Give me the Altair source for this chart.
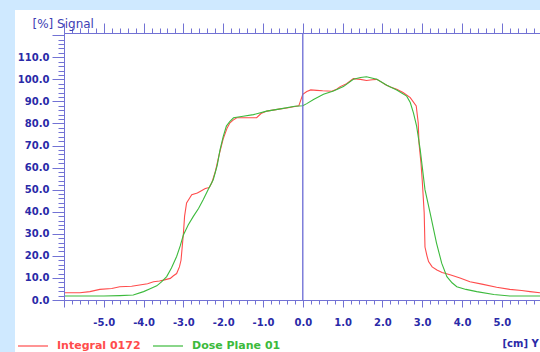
import altair as alt
import pandas as pd

# ---------------- data ----------------
red_x = [-6.0, -5.6, -5.35, -5.1, -4.8, -4.6, -4.3, -4.1, -3.9, -3.75,
         -3.6, -3.5, -3.33, -3.25, -3.17, -3.1, -3.06, -3.03, -3.0, -2.97,
         -2.92, -2.85, -2.79, -2.65, -2.58, -2.45, -2.35, -2.29, -2.2, -2.1,
         -2.0, -1.9, -1.83, -1.75, -1.66, -1.5, -1.41, -1.25, -1.16, -1.05,
         -0.9, -0.6, -0.4, -0.2, -0.1, 0.0, 0.1, 0.2, 0.35, 0.5,
         0.73, 0.85, 0.94, 1.1, 1.27, 1.45, 1.6, 1.75, 1.86, 2.0,
         2.07, 2.2, 2.36, 2.52, 2.7, 2.85, 2.9, 2.92, 2.97, 3.0,
         3.05, 3.07, 3.12, 3.16, 3.25, 3.37, 3.5, 3.7, 3.95, 4.2,
         4.5, 4.87, 5.2, 5.5, 5.71, 5.96]
red_y = [3.3, 3.3, 3.8, 4.8, 5.2, 6.0, 6.2, 6.8, 7.4, 8.3,
         8.6, 9.0, 9.8, 11, 12, 15, 18, 24, 30, 38,
         44, 46, 47.7, 48.5, 49.2, 50.5, 51, 53, 58, 66,
         73, 78, 80.3, 81.5, 82.6, 82.6, 82.6, 82.6, 82.6, 84.5,
         85.6, 86.5, 87, 87.7, 88, 93.2, 94.5, 95.2, 95, 94.8,
         94.6, 95.5, 96.7, 98, 100.3, 100, 99.5, 99.8, 100, 98.5,
         97.7, 96.5, 95.5, 94, 91.7, 87.9, 80.3, 71, 62, 54.5,
         39.5, 24, 20, 17.4, 15, 13.6, 12.5, 11.4, 10, 8.3,
         7.2, 5.8, 4.8, 4.3, 3.8, 3.3]

green_x = [-6.0, -5.0, -4.6, -4.26, -4.0, -3.85, -3.67, -3.55, -3.42, -3.3,
           -3.17, -3.08, -3.0, -2.88, -2.75, -2.62, -2.5, -2.38, -2.25, -2.15,
           -2.08, -2.0, -1.92, -1.83, -1.74, -1.5, -1.24, -0.91, -0.6, -0.2,
           0.0, 0.1, 0.27, 0.52, 0.77, 1.02, 1.27, 1.45, 1.6, 1.86,
           2.11, 2.36, 2.61, 2.7, 2.78, 2.86, 2.95, 3.03, 3.07, 3.2,
           3.36, 3.49, 3.62, 3.75, 3.87, 4.1, 4.37, 4.8, 5.2, 5.96]
green_y = [1.8, 1.8, 2.0, 2.3, 3.8, 5.0, 6.4, 8.2, 10.6, 14.5,
           19.7, 24.5, 29.5, 34, 37.9, 41.5, 45.5, 50, 54.5, 61,
           68, 74, 78.8, 81, 82.6, 83.3, 84, 85.6, 86.5, 87.8,
           88, 89, 90.9, 93.2, 94.7, 96.7, 100, 100.8, 101.2, 100,
           97.3, 95.2, 92.4, 89.5, 84.8, 78.8, 68.2, 56, 50, 39.4,
           25.8, 16.7, 10.6, 7.8, 6.0, 4.8, 3.8, 2.5, 1.8, 1.8]

red_name = "Integral 0172"
green_name = "Dose Plane 01"
RED = "#ff4c4c"
GREEN = "#3cba3c"

x_major_ticks = [-6, -5, -4, -3, -2, -1, 0, 1, 2, 3, 4, 5]
x_minor_ticks = [-6.0, -5.8, -5.6, -5.4, -5.2, -5.0, -4.8, -4.6, -4.4, -4.2,
                 -4.0, -3.8, -3.6, -3.4, -3.2, -3.0, -2.8, -2.6, -2.4, -2.2,
                 -2.0, -1.8, -1.6, -1.4, -1.2, -1.0, -0.8, -0.6, -0.4, -0.2,
                 0.0, 0.2, 0.4, 0.6, 0.8, 1.0, 1.2, 1.4, 1.6, 1.8,
                 2.0, 2.2, 2.4, 2.6, 2.8, 3.0, 3.2, 3.4, 3.6, 3.8,
                 4.0, 4.2, 4.4, 4.6, 4.8, 5.0, 5.2, 5.4, 5.6, 5.8]
y_major_ticks = [0, 10, 20, 30, 40, 50, 60, 70, 80, 90, 100, 110, 120]
y_minor_ticks = list(range(0, 122, 2))

# ---------------- styling ----------------
BG = "#cfe9ff"
AX = "#7272d4"
LAB = "#2a2aa8"
FONT = "DejaVu Sans"

red_df = pd.DataFrame({"x": red_x, "y": red_y, "series": red_name})
green_df = pd.DataFrame({"x": green_x, "y": green_y, "series": green_name})
df = pd.concat([red_df, green_df], ignore_index=True)

x_scale = alt.Scale(domain=[-6, 5.96], nice=False, zero=False)
y_scale = alt.Scale(domain=[0, 121], nice=False, zero=False)

panel = alt.Chart(alt.Data(values=[{"p": 1}])).mark_rect(color="white").encode(
    x=alt.value(-49), x2=alt.value(490), y=alt.value(-23), y2=alt.value(330)
)

minor = alt.Chart(df).mark_line(opacity=0).encode(
    x=alt.X("x:Q", scale=x_scale,
            axis=alt.Axis(orient="bottom", values=x_minor_ticks, tickSize=4, labels=False,
                          domain=False, grid=False, title=None, tickColor=AX, zindex=1)),
    y=alt.Y("y:Q", scale=y_scale,
            axis=alt.Axis(orient="left", values=y_minor_ticks, tickSize=6, labels=False,
                          domain=False, grid=False, title=None, tickColor=AX, zindex=1)),
    detail="series:N",
)

x_major_axis = alt.Axis(
    orient="bottom", values=x_major_ticks, tickSize=7,
    labelExpr="abs(datum.value) > 5.5 ? '' : (datum.value < 0 ? '-' : '') + format(abs(datum.value), '.1f')",
    labelPadding=10, labelFont=FONT, labelFontSize=10, labelFontWeight="bold",
    labelColor=LAB, labelOverlap=False, domainColor=AX, tickColor=AX,
    grid=False, zindex=1,
    title="[cm] Y", titleX=438, titleY=46, titleAlign="left",
    titleBaseline="alphabetic", titleFont=FONT, titleFontSize=10,
    titleFontWeight="bold", titleColor=LAB)

y_major_axis = alt.Axis(
    orient="left", values=y_major_ticks, tickSize=12,
    labelExpr="datum.value > 115 ? '' : format(datum.value, '.1f')",
    labelPadding=3, labelFont=FONT, labelFontSize=10, labelFontWeight="bold",
    labelColor=LAB, labelOverlap=False, domainColor=AX, tickColor=AX,
    grid=False, zindex=1,
    title="[%] Signal", titleAngle=0, titleX=-32, titleY=-6,
    titleAlign="left", titleBaseline="alphabetic", titleFont=FONT,
    titleFontSize=12, titleFontWeight="normal", titleColor="#4040b4")


def legend_for(x_pos, color):
    return alt.Legend(orient="none", legendX=x_pos, legendY=297,
                      direction="horizontal", title=None,
                      symbolType="stroke", symbolSize=900,
                      symbolStrokeWidth=1.2, labelOffset=8,
                      labelFont=FONT, labelFontSize=11, labelFontWeight="bold",
                      labelColor=color)


red_line = alt.Chart(red_df).mark_line(strokeWidth=1.1).encode(
    x=alt.X("x:Q", scale=x_scale, axis=x_major_axis),
    y=alt.Y("y:Q", scale=y_scale, axis=y_major_axis),
    color=alt.Color("series:N", scale=alt.Scale(domain=[red_name], range=[RED]),
                    legend=legend_for(-47, RED)),
)

green_line = alt.Chart(green_df).mark_line(strokeWidth=1.1).encode(
    x=alt.X("x:Q", scale=x_scale, axis=None),
    y=alt.Y("y:Q", scale=y_scale, axis=None),
    stroke=alt.Stroke("series:N", scale=alt.Scale(domain=[green_name], range=[GREEN]),
                      legend=legend_for(88, GREEN)),
)

zero_line = alt.Chart(alt.Data(values=[{"p": 1}])).mark_rule(color="#6a6ad4", strokeWidth=1.3).encode(
    x=alt.XDatum(0, type="quantitative", scale=x_scale,
                 axis=alt.Axis(orient="top", values=x_major_ticks, tickSize=10, labels=False,
                               domainColor=AX, tickColor=AX, grid=False, title=None, zindex=1)),
)

top_minor = alt.Chart(alt.Data(values=[{"p": 1}])).mark_rule(opacity=0).encode(
    x=alt.XDatum(0, type="quantitative", scale=x_scale,
                 axis=alt.Axis(orient="top", values=x_minor_ticks, tickSize=5, labels=False,
                               domain=False, tickColor=AX, grid=False, title=None, zindex=1)),
)

chart = alt.layer(panel, minor, red_line, green_line, zero_line, top_minor).resolve_axis(
    x="independent", y="independent"
).resolve_scale(color="independent", stroke="independent").properties(
    width=476, height=267,
    autosize=alt.AutoSizeParams(type="none"),
    padding={"left": 64, "top": 33, "right": 0, "bottom": 52},
    background=BG,
).configure_view(stroke=None)

chart.save("out.html", embed_options={"renderer": "svg", "actions": False})
